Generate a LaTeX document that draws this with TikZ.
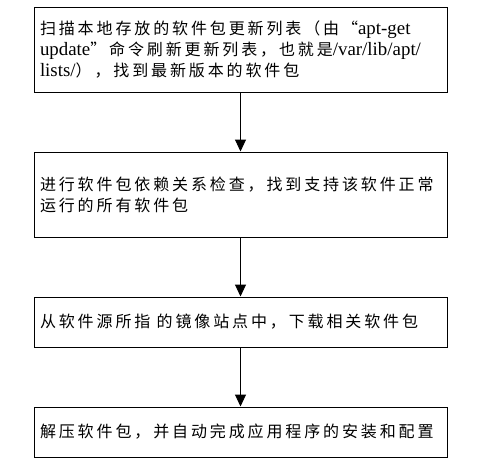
\documentclass[tikz,border=0pt]{standalone}
\usepackage{fontspec}
\setmainfont{Liberation Serif}[Scale=1.18]
\newfontfamily\cjk[LetterSpace=18]{Noto Sans CJK SC}
\usetikzlibrary{arrows.meta}

\tikzset{
  stepbox/.style={draw, line width=1pt, rectangle, text width=401pt, inner sep=6pt,
    align=left, font=\fontsize{16}{21}\selectfont},
  flow/.style={line width=1pt, -{Triangle[length=12pt,width=11pt]}}
}

\begin{document}
\begin{tikzpicture}[x=1pt,y=-1pt]
\useasboundingbox (0,0) rectangle (479,464);
\node[stepbox, minimum height=85pt] (scan) at (240.5,49.5)
  {{\cjk 扫描本地存放的软件包更新列表（由“}apt-get\\
   update{\cjk ”命令刷新更新列表，也就是}/var/lib/apt/\\
   lists/{\cjk ），找到最新版本的软件包}};
\node[stepbox, minimum height=85pt] (check) at (240.5,194.5)
  {{\cjk 进行软件包依赖关系检查，找到支持该软件正常\\
   运行的所有软件包}};
\node[stepbox, minimum height=50pt] (download) at (240.5,322)
  {{\cjk 从软件源所指 的镜像站点中，下载相关软件包}};
\node[stepbox, minimum height=50pt] (install) at (240.5,432)
  {{\cjk 解压软件包，并自动完成应用程序的安装和配置}};
\draw[flow] (scan.south) -- (check.north);
\draw[flow] (check.south) -- (download.north);
\draw[flow] (download.south) -- (install.north);
\end{tikzpicture}
\end{document}
